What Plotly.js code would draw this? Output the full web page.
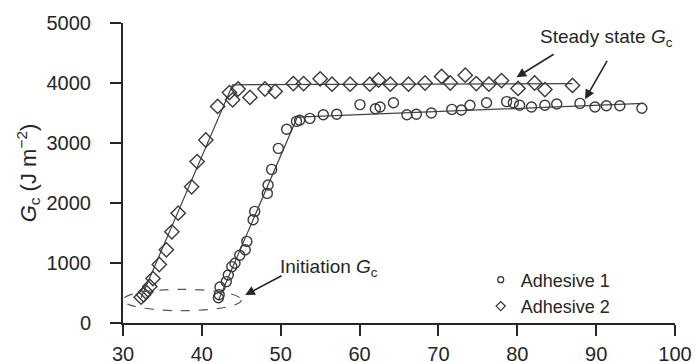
<!DOCTYPE html>
<html>
<head>
<meta charset="utf-8">
<script src="https://cdn.plot.ly/plotly-3.0.1.min.js"></script>
<style>html,body{margin:0;padding:0;background:#fff;}#chart{width:695px;height:362px;}</style>
</head>
<body>
<div id="chart"></div>
<script>
// Adhesive 1 (circles)
const adh1X = [42.1, 42.2, 42.3, 43.1, 43.35, 43.8, 44.2, 44.8, 45.5, 45.7, 46.5, 46.7, 48.3, 48.4, 48.85, 49.7, 50.75, 52.0, 52.4, 53.7, 55.4, 57.1, 60.05, 62.0, 62.6, 64.3, 66.0, 67.2, 69.1, 71.7, 72.9, 74.0, 76.1, 78.65, 79.5, 80.3, 81.8, 83.5, 85.0, 87.95, 89.85, 91.3, 93.0, 95.8];
const adh1Y = [420, 470, 600, 690, 800, 940, 995, 1130, 1220, 1360, 1720, 1860, 2160, 2300, 2560, 2910, 3230, 3360, 3380, 3410, 3470, 3480, 3640, 3570, 3600, 3670, 3470, 3480, 3500, 3560, 3550, 3630, 3670, 3690, 3670, 3630, 3600, 3630, 3650, 3660, 3600, 3620, 3620, 3580];
// Adhesive 2 (diamonds)
const adh2X = [32.3, 32.6, 32.9, 33.4, 33.8, 34.6, 35.5, 36.2, 37.0, 38.7, 39.4, 40.5, 42.0, 43.5, 43.9, 44.6, 46.1, 48.0, 49.3, 51.6, 52.9, 55.0, 56.5, 58.8, 61.3, 62.4, 63.9, 66.2, 68.3, 70.4, 71.5, 73.4, 74.8, 76.4, 78.0, 80.1, 82.2, 83.5, 87.0];
const adh2Y = [430, 470, 520, 610, 740, 975, 1220, 1520, 1830, 2270, 2690, 3050, 3610, 3840, 3720, 3900, 3760, 3900, 3860, 3990, 3990, 4070, 3980, 3980, 3980, 4050, 3980, 3980, 4000, 4110, 4000, 4130, 3990, 3980, 4040, 3910, 4000, 3890, 3960];
// Fitted bilinear lines
const fit1X = [42.1, 52.1, 96];
const fit1Y = [380, 3430, 3660];
const fit2X = [32.3, 43.9, 87];
const fit2Y = [420, 3970, 3990];
// Axis ticks
const xTicks = [30, 40, 50, 60, 70, 80, 90, 100];
const yTicks = [0, 1000, 2000, 3000, 4000, 5000];
const seriesNames = ['Adhesive 1', 'Adhesive 2'];

const ink = '#262626';
const font = 'Liberation Sans, Arial, Helvetica, sans-serif';

const traces = [
  {x: fit1X, y: fit1Y, mode: 'lines', line: {color: '#444', width: 1.2}, showlegend: false, hoverinfo: 'skip'},
  {x: fit2X, y: fit2Y, mode: 'lines', line: {color: '#444', width: 1.2}, showlegend: false, hoverinfo: 'skip'},
  {x: adh1X, y: adh1Y, mode: 'markers', showlegend: false,
   marker: {symbol: 'circle-open', size: 10, color: '#3a3a3a', line: {width: 1.4, color: '#3a3a3a'}}},
  {x: adh2X, y: adh2Y, mode: 'markers', showlegend: false,
   marker: {symbol: 'diamond-open', size: 11, color: '#3a3a3a', line: {width: 1.4, color: '#3a3a3a'}}},
  {x: [null], y: [null], mode: 'markers', name: seriesNames[0],
   marker: {symbol: 'circle-open', size: 6, color: '#3a3a3a', line: {width: 1.3, color: '#3a3a3a'}}},
  {x: [null], y: [null], mode: 'markers', name: seriesNames[1],
   marker: {symbol: 'diamond-open', size: 7, color: '#3a3a3a', line: {width: 1.3, color: '#3a3a3a'}}}
];

const layout = {
  width: 695, height: 362,
  margin: {l: 123, r: 20, t: 23, b: 39},
  paper_bgcolor: '#fff', plot_bgcolor: '#fff',
  font: {family: font, size: 20, color: ink},
  showlegend: true,
  legend: {x: 0.648, y: 0.205, xanchor: 'left', yanchor: 'top', bgcolor: 'rgba(0,0,0,0)',
           font: {size: 18, color: ink}, tracegroupgap: 0},
  xaxis: {range: [30, 100], tickvals: xTicks, ticks: 'outside', ticklen: 11, tickwidth: 2, tickcolor: ink,
          showline: true, linecolor: ink, linewidth: 2, showgrid: false, zeroline: false,
          ticklabelstandoff: 1, tickfont: {size: 20, color: ink}, fixedrange: true},
  yaxis: {range: [0, 5000], tickvals: yTicks, ticks: 'outside', ticklen: 11, tickwidth: 2, tickcolor: ink,
          showline: true, linecolor: ink, linewidth: 2, showgrid: false, zeroline: false,
          ticklabelstandoff: 15, tickfont: {size: 20, color: ink}, fixedrange: true,
          title: {text: '<i>G</i><sub>c</sub> (J m<sup>−2</sup>)', font: {size: 22, color: ink}, standoff: 4}},
  shapes: [
    {type: 'circle', xref: 'x', yref: 'y', x0: 30, x1: 45, y0: 205, y1: 562,
     line: {color: '#555', width: 1.2, dash: 'dash'}}
  ],
  annotations: [
    {xref: 'x', yref: 'y', x: 91.3, y: 4750, text: 'Steady state <i>G</i><sub>c</sub>', showarrow: false,
     font: {size: 19, color: ink}},
    {xref: 'x', yref: 'y', x: 79.9, y: 4095, ax: 84.8, ay: 4495, axref: 'x', ayref: 'y', text: '',
     showarrow: true, arrowhead: 2, arrowsize: 1.2, arrowwidth: 1.6, arrowcolor: ink},
    {xref: 'x', yref: 'y', x: 88.6, y: 3728, ax: 91.5, ay: 4395, axref: 'x', ayref: 'y', text: '',
     showarrow: true, arrowhead: 2, arrowsize: 1.2, arrowwidth: 1.6, arrowcolor: ink},
    {xref: 'x', yref: 'y', x: 56.1, y: 920, text: 'Initiation <i>G</i><sub>c</sub>', showarrow: false,
     font: {size: 19, color: ink}},
    {xref: 'x', yref: 'y', x: 45.5, y: 467, ax: 50.3, ay: 800, axref: 'x', ayref: 'y', text: '',
     showarrow: true, arrowhead: 2, arrowsize: 1.2, arrowwidth: 1.6, arrowcolor: ink}
  ]
};

Plotly.newPlot('chart', traces, layout, {displayModeBar: false, staticPlot: true});
</script>
</body>
</html>
